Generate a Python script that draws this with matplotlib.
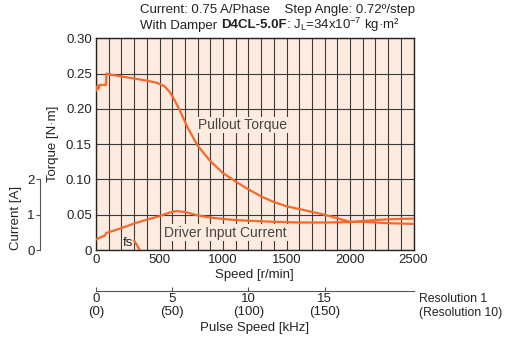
import matplotlib
matplotlib.use("Agg")
import matplotlib.pyplot as plt

plt.rcParams['font.family'] = ['Liberation Sans', 'DejaVu Sans']
plt.rcParams['mathtext.default'] = 'regular'

# Dados
velocidade_torque = [0, 8, 12, 18, 22, 30, 50, 80, 82, 100, 200, 300, 400, 480, 540, 580, 620, 660,
                     720, 800, 900, 1000, 1100, 1200, 1300, 1400, 1500, 1600, 1700, 1800, 1900,
                     2000, 2100, 2200, 2300, 2400, 2500]
torque = [0.226, 0.232, 0.228, 0.233, 0.229, 0.234, 0.234, 0.234, 0.250, 0.249, 0.246, 0.243,
          0.240, 0.237, 0.232, 0.224, 0.212, 0.198, 0.174, 0.148, 0.126, 0.109, 0.097, 0.086,
          0.076, 0.068, 0.062, 0.058, 0.054, 0.050, 0.045, 0.040, 0.040, 0.039, 0.038, 0.0375,
          0.037]

velocidade_corrente = [0, 70, 80, 200, 300, 400, 500, 580, 630, 700, 800, 900, 1000, 1100,
                       1200, 1400, 1600, 1800, 2000, 2100, 2200, 2300, 2400, 2500]
corrente = [0.30, 0.41, 0.48, 0.62, 0.75, 0.86, 0.96, 1.06, 1.10, 1.08, 0.98, 0.92, 0.88, 0.85,
            0.83, 0.80, 0.78, 0.78, 0.79, 0.82, 0.85, 0.87, 0.88, 0.89]

fs_velocidade = [300, 345]
fs_torque = [0.0135, 0.0]

torque_ticks = [0, 0.05, 0.10, 0.15, 0.20, 0.25, 0.30]
torque_labels = ["0", "0.05", "0.10", "0.15", "0.20", "0.25", "0.30"]
velocidade_ticks = [0, 500, 1000, 1500, 2000, 2500]
pulso_ticks = [0, 5, 10, 15]
pulso_labels = ["0\n(0)", "5\n(50)", "10\n(100)", "15\n(150)"]
corrente_ticks = [0, 1, 2]

COR_LINHA = "#f26a2c"
COR_FUNDO = "#fdebdf"
COR_GRELHA = "#3a3a3a"
COR_EIXO = "#555555"
FS = 9.5
FS_CURVA = 10

fig = plt.figure(figsize=(5.09, 3.40), dpi=100)

# Eixo principal: binario vs velocidade
ax = fig.add_axes([0.1886, 0.2647, 0.6238, 0.6226])
ax.set_facecolor(COR_FUNDO)
ax.set_xlim(0, 2500)
ax.set_ylim(0, 0.30)
ax.set_xticks(velocidade_ticks)
ax.set_xticks(range(0, 2501, 100), minor=True)
ax.set_yticks(torque_ticks)
ax.set_yticklabels(torque_labels)
ax.tick_params(axis="both", which="both", length=0, labelsize=FS, colors="#222222", pad=3)
ax.grid(True, which="both", axis="x", color=COR_GRELHA, lw=0.8)
ax.grid(True, which="major", axis="y", color=COR_GRELHA, lw=0.8)
ax.set_axisbelow(True)
for s in ax.spines.values():
    s.set_color("#222222")
    s.set_linewidth(1.0)
ax.set_xlabel("Speed [r/min]", fontsize=FS, color="#222222", labelpad=2)
ax.set_ylabel("Torque [N·m]", fontsize=FS, color="#222222", labelpad=5)

ax.plot(velocidade_torque, torque, color=COR_LINHA, lw=1.6, zorder=4)
ax.plot(fs_velocidade, fs_torque, color=COR_LINHA, lw=1.6, zorder=4, clip_on=True)

caixa = dict(facecolor=COR_FUNDO, edgecolor="none", pad=1)
ax.text(1150, 0.177, "Pullout Torque", fontsize=FS_CURVA, color="#444444", ha="center",
        va="center", bbox=caixa, zorder=3)
ax.text(1015, 0.0245, "Driver Input Current", fontsize=FS_CURVA, color="#444444", ha="center",
        va="center", bbox=caixa, zorder=3)
ax.text(250, 0.0105, "fs", fontsize=FS, color="#222222", ha="center", va="center",
        bbox=dict(facecolor=COR_FUNDO, edgecolor="none", pad=0.5), zorder=3)

# Corrente no mesmo eixo vertical, com escala propria (0.05 N·m <-> 1 A)
axc = ax.twinx()
axc.set_ylim(0, 6)
axc.plot(velocidade_corrente, corrente, color=COR_LINHA, lw=1.6, zorder=4)
axc.axis("off")

# Eixo de corrente separado, a esquerda
axi = fig.add_axes([0.0786, 0.2647, 0.001, 0.6226])
axi.set_ylim(0, 6)
axi.patch.set_visible(False)
for nome in ["top", "right", "bottom"]:
    axi.spines[nome].set_visible(False)
axi.spines["left"].set_bounds(0, 2)
axi.spines["left"].set_color(COR_EIXO)
axi.set_xticks([])
axi.set_yticks(corrente_ticks)
axi.tick_params(axis="y", length=3, color=COR_EIXO, labelsize=FS, labelcolor="#222222", pad=1)
fig.text(16 / 509, 1 - 218 / 340, "Current [A]", rotation=90, fontsize=FS,
         color="#222222", ha="center", va="center")

# Eixo de frequencia de impulsos
axp = fig.add_axes([0.1886, 0.145, 0.6238, 0.001])
axp.set_xlim(0, 2500 / 60 * 0.5)
axp.patch.set_visible(False)
for nome in ["top", "right", "left"]:
    axp.spines[nome].set_visible(False)
axp.spines["bottom"].set_color(COR_EIXO)
axp.set_yticks([])
axp.set_xticks(pulso_ticks)
axp.set_xticklabels(pulso_labels, linespacing=1.05)
axp.tick_params(axis="x", direction="in", length=3, color=COR_EIXO, labelsize=FS,
                labelcolor="#222222", pad=2)
axp.set_xlabel("Pulse Speed [kHz]", fontsize=FS, color="#222222", labelpad=3)
fig.text(0.824, 0.1, "Resolution 1\n(Resolution 10)", fontsize=8.8, color="#222222",
         ha="left", va="center", linespacing=1.15)

# Titulo em duas linhas, com parte a negrito
fig.text(0.275, 1 - 10.5 / 340, "Current: 0.75 A/Phase    Step Angle: 0.72º/step",
         fontsize=FS, color="#222222", ha="left", va="center")
renderer = fig.canvas.get_renderer()
x_px = 0.275 * fig.bbox.width
y_base = 1 - 28.5 / 340
partes = [("With Damper ", "normal"), ("D4CL-5.0F", "bold"),
          (": J$_{L}$=34x10$^{-7}$ kg·m²", "normal")]
for texto, peso in partes:
    t = fig.text(x_px / fig.bbox.width, y_base, texto, fontsize=FS, color="#222222",
                 ha="left", va="baseline", fontweight=peso)
    x_px += t.get_window_extent(renderer).width

fig.savefig("out.png", dpi=100)
